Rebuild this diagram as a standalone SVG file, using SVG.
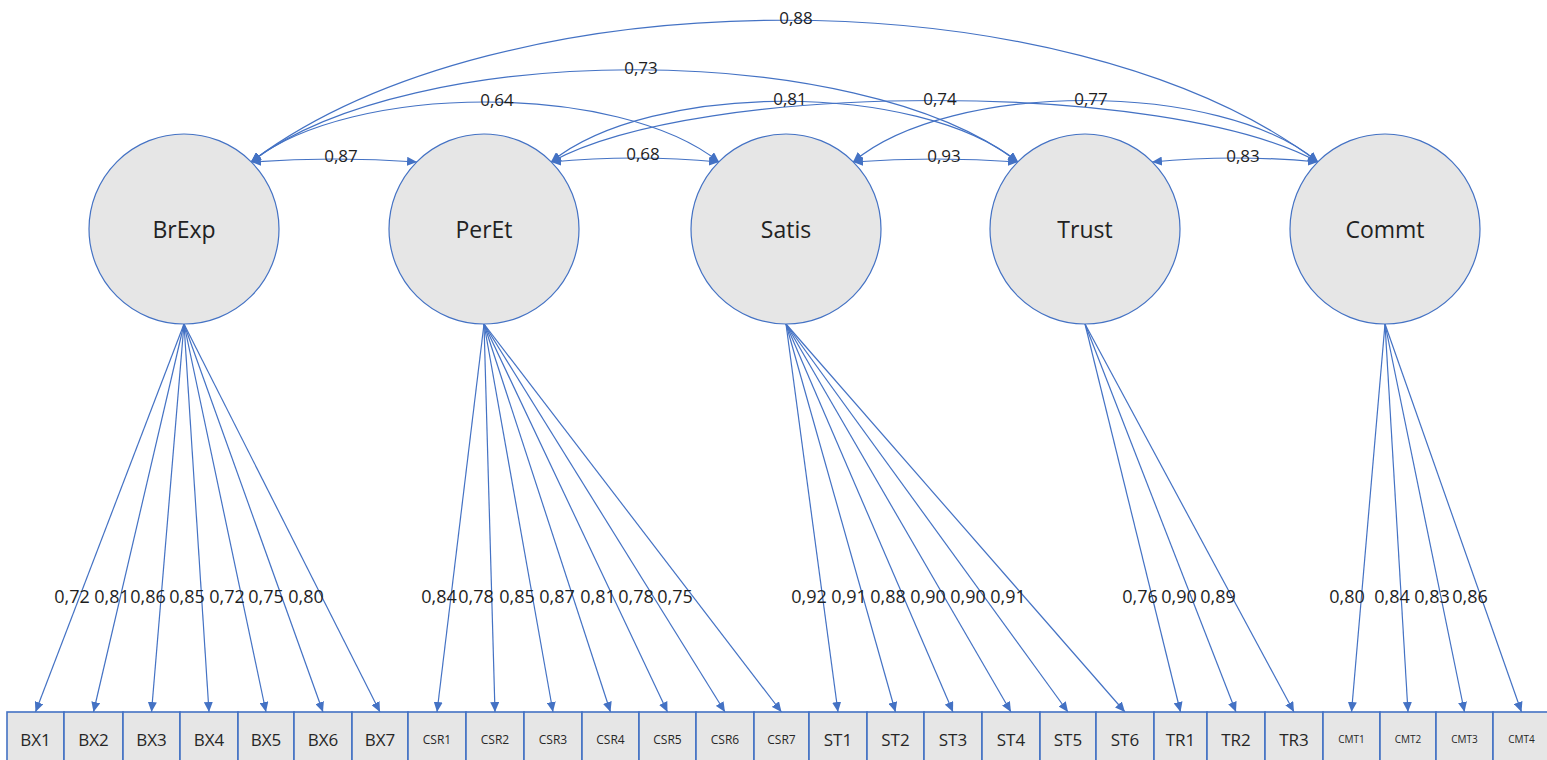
<svg xmlns="http://www.w3.org/2000/svg" width="1547" height="760" viewBox="0 0 1547 760">
<style>
.lat circle{fill:#E6E6E6;stroke:#4472C4;stroke-width:1.2}
.lat text{font-family:"Open Sans","Liberation Sans",sans-serif;font-size:23px;fill:#222;text-anchor:middle}
.box rect{fill:#E6E6E6;stroke:#4472C4;stroke-width:1.6}
.box text{font-family:"Open Sans","Liberation Sans",sans-serif;font-size:17px;fill:#262626;text-anchor:middle}
.box text.s{font-size:12px}
.box text.xs{font-size:10px}
.con path{fill:none;stroke:#4472C4;stroke-width:1.2}
.cov{marker-start:url(#ah);marker-end:url(#ah)}
.ld{marker-end:url(#ah)}
.lbl{font-family:"Open Sans","Liberation Sans",sans-serif;fill:#1e1e1e;text-anchor:middle}
.top{font-size:17px}
.bot{font-size:18px}
</style>
<defs>
<marker id="ah" viewBox="0 0 10 9" refX="10" refY="4.5" markerWidth="10" markerHeight="9" markerUnits="userSpaceOnUse" orient="auto-start-reverse">
<path d="M0,0 L10,4.5 L0,9 z" fill="#4472C4"/>
</marker>
</defs>
<rect width="1547" height="760" fill="#fff"/>

<g id="connectors" class="con">
<path class="cov" d="M251,162 Q334,156 417,162"/>
<path class="cov" d="M551,162 Q635,154 719,162"/>
<path class="cov" d="M853,162 Q935,156 1018,162"/>
<path class="cov" d="M1152,162 Q1235,154 1318,162"/>
<path class="cov" d="M251,162 C351,82 619,82 719,162"/>
<path class="cov" d="M251,162 C411,39 858,39 1018,162"/>
<path class="cov" d="M251,162 C501,-27 1068,-27 1318,162"/>
<path class="cov" d="M551,162 C651,81 918,81 1018,162"/>
<path class="cov" d="M551,162 C700,80 1169,80 1318,162"/>
<path class="cov" d="M853,162 C950,80 1221,80 1318,162"/>
<path class="ld" d="M184,324 L35.5,712"/>
<path class="ld" d="M184,324 L93.5,712"/>
<path class="ld" d="M184,324 L151.5,712"/>
<path class="ld" d="M184,324 L209,712"/>
<path class="ld" d="M184,324 L266,712"/>
<path class="ld" d="M184,324 L323,712"/>
<path class="ld" d="M184,324 L380,712"/>
<path class="ld" d="M484,324 L437,712"/>
<path class="ld" d="M484,324 L495,712"/>
<path class="ld" d="M484,324 L553,712"/>
<path class="ld" d="M484,324 L610.5,712"/>
<path class="ld" d="M484,324 L667.5,712"/>
<path class="ld" d="M484,324 L725,712"/>
<path class="ld" d="M484,324 L781.5,712"/>
<path class="ld" d="M786,324 L838,712"/>
<path class="ld" d="M786,324 L895.5,712"/>
<path class="ld" d="M786,324 L953,712"/>
<path class="ld" d="M786,324 L1011,712"/>
<path class="ld" d="M786,324 L1068,712"/>
<path class="ld" d="M786,324 L1125,712"/>
<path class="ld" d="M1085,324 L1180.5,712"/>
<path class="ld" d="M1085,324 L1236,712"/>
<path class="ld" d="M1085,324 L1294,712"/>
<path class="ld" d="M1385,324 L1351.5,712"/>
<path class="ld" d="M1385,324 L1408,712"/>
<path class="ld" d="M1385,324 L1464.5,712"/>
<path class="ld" d="M1385,324 L1521.5,712"/>
</g>

<g id="cov-labels" class="lbl top">
<text x="341" y="162">0,87</text>
<text x="643" y="160">0,68</text>
<text x="944" y="162">0,93</text>
<text x="1243" y="162">0,83</text>
<text x="497" y="106">0,64</text>
<text x="641" y="74">0,73</text>
<text x="796" y="24">0,88</text>
<text x="790" y="105">0,81</text>
<text x="940" y="105">0,74</text>
<text x="1091" y="105">0,77</text>
</g>

<g id="load-labels" class="lbl bot">
<text x="72" y="603">0,72</text>
<text x="112" y="603">0,81</text>
<text x="148" y="603">0,86</text>
<text x="187" y="603">0,85</text>
<text x="227" y="603">0,72</text>
<text x="266" y="603">0,75</text>
<text x="306" y="603">0,80</text>
<text x="439" y="603">0,84</text>
<text x="476" y="603">0,78</text>
<text x="517" y="603">0,85</text>
<text x="557" y="603">0,87</text>
<text x="598" y="603">0,81</text>
<text x="636" y="603">0,78</text>
<text x="675" y="603">0,75</text>
<text x="809" y="603">0,92</text>
<text x="849" y="603">0,91</text>
<text x="888" y="603">0,88</text>
<text x="928" y="603">0,90</text>
<text x="968" y="603">0,90</text>
<text x="1008" y="603">0,91</text>
<text x="1140" y="603">0,76</text>
<text x="1179" y="603">0,90</text>
<text x="1218" y="603">0,89</text>
<text x="1347" y="603">0,80</text>
<text x="1392" y="603">0,84</text>
<text x="1432" y="603">0,83</text>
<text x="1470" y="603">0,86</text>
</g>

<g id="BrExp" class="lat"><circle cx="184" cy="229" r="95"/><text x="184" y="238">BrExp</text></g>
<g id="PerEt" class="lat"><circle cx="484" cy="229" r="95"/><text x="484" y="238">PerEt</text></g>
<g id="Satis" class="lat"><circle cx="786" cy="229" r="95"/><text x="786" y="238">Satis</text></g>
<g id="Trust" class="lat"><circle cx="1085" cy="229" r="95"/><text x="1085" y="238">Trust</text></g>
<g id="Commt" class="lat"><circle cx="1385" cy="229" r="95"/><text x="1385" y="238">Commt</text></g>

<g id="BX1" class="box"><rect x="7" y="712" width="57" height="60"/><text x="35.5" y="746">BX1</text></g>
<g id="BX2" class="box"><rect x="64" y="712" width="59" height="60"/><text x="93.5" y="746">BX2</text></g>
<g id="BX3" class="box"><rect x="123" y="712" width="57" height="60"/><text x="151.5" y="746">BX3</text></g>
<g id="BX4" class="box"><rect x="180" y="712" width="58" height="60"/><text x="209" y="746">BX4</text></g>
<g id="BX5" class="box"><rect x="238" y="712" width="56" height="60"/><text x="266" y="746">BX5</text></g>
<g id="BX6" class="box"><rect x="294" y="712" width="58" height="60"/><text x="323" y="746">BX6</text></g>
<g id="BX7" class="box"><rect x="352" y="712" width="56" height="60"/><text x="380" y="746">BX7</text></g>
<g id="CSR1" class="box"><rect x="408" y="712" width="58" height="60"/><text class="s" x="437" y="744">CSR1</text></g>
<g id="CSR2" class="box"><rect x="466" y="712" width="58" height="60"/><text class="s" x="495" y="744">CSR2</text></g>
<g id="CSR3" class="box"><rect x="524" y="712" width="58" height="60"/><text class="s" x="553" y="744">CSR3</text></g>
<g id="CSR4" class="box"><rect x="582" y="712" width="57" height="60"/><text class="s" x="610.5" y="744">CSR4</text></g>
<g id="CSR5" class="box"><rect x="639" y="712" width="57" height="60"/><text class="s" x="667.5" y="744">CSR5</text></g>
<g id="CSR6" class="box"><rect x="696" y="712" width="58" height="60"/><text class="s" x="725" y="744">CSR6</text></g>
<g id="CSR7" class="box"><rect x="754" y="712" width="55" height="60"/><text class="s" x="781.5" y="744">CSR7</text></g>
<g id="ST1" class="box"><rect x="809" y="712" width="58" height="60"/><text x="838" y="746">ST1</text></g>
<g id="ST2" class="box"><rect x="867" y="712" width="57" height="60"/><text x="895.5" y="746">ST2</text></g>
<g id="ST3" class="box"><rect x="924" y="712" width="58" height="60"/><text x="953" y="746">ST3</text></g>
<g id="ST4" class="box"><rect x="982" y="712" width="58" height="60"/><text x="1011" y="746">ST4</text></g>
<g id="ST5" class="box"><rect x="1040" y="712" width="56" height="60"/><text x="1068" y="746">ST5</text></g>
<g id="ST6" class="box"><rect x="1096" y="712" width="58" height="60"/><text x="1125" y="746">ST6</text></g>
<g id="TR1" class="box"><rect x="1154" y="712" width="53" height="60"/><text x="1180.5" y="746">TR1</text></g>
<g id="TR2" class="box"><rect x="1207" y="712" width="58" height="60"/><text x="1236" y="746">TR2</text></g>
<g id="TR3" class="box"><rect x="1265" y="712" width="58" height="60"/><text x="1294" y="746">TR3</text></g>
<g id="CMT1" class="box"><rect x="1323" y="712" width="57" height="60"/><text class="xs" x="1351.5" y="743">CMT1</text></g>
<g id="CMT2" class="box"><rect x="1380" y="712" width="56" height="60"/><text class="xs" x="1408" y="743">CMT2</text></g>
<g id="CMT3" class="box"><rect x="1436" y="712" width="57" height="60"/><text class="xs" x="1464.5" y="743">CMT3</text></g>
<g id="CMT4" class="box"><rect x="1493" y="712" width="57" height="60"/><text class="xs" x="1521.5" y="743">CMT4</text></g>
</svg>
